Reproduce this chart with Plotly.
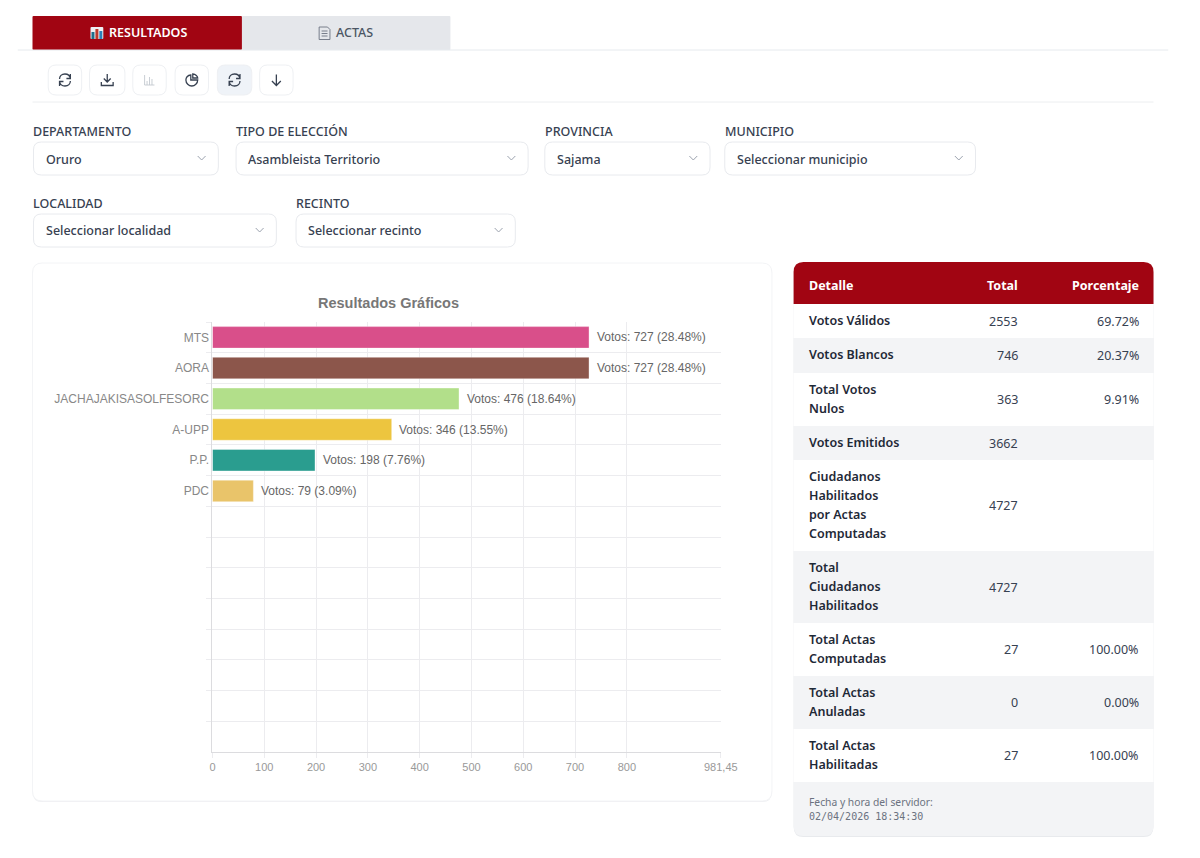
import re
import plotly.graph_objects as go

W = 1200
H = 858

# chart data
partidos = ["MTS", "AORA", "JACHAJAKISASOLFESORC", "A-UPP", "P.P.", "PDC"]
votos = [727, 727, 476, 346, 198, 79]
porcentajes_votos = ["28.48%", "28.48%", "18.64%", "13.55%", "7.76%", "3.09%"]
colores = ["#d94f8a", "#8c564b", "#b2df8a", "#edc53f", "#2a9d8f", "#e9c46a"]
filas_vacias = 8
x_ticks = [0, 100, 200, 300, 400, 500, 600, 700, 800, 981.45]
x_labels = ["0", "100", "200", "300", "400", "500", "600", "700", "800", "981,45"]

# table data
detalle = ["Votos Válidos", "Votos Blancos", "Total Votos<br>Nulos", "Votos Emitidos",
           "Ciudadanos<br>Habilitados<br>por Actas<br>Computadas",
           "Total<br>Ciudadanos<br>Habilitados", "Total Actas<br>Computadas",
           "Total Actas<br>Anuladas", "Total Actas<br>Habilitadas"]
totales = ["2553", "746", "363", "3662", "4727", "4727", "27", "0", "27"]
porcentajes = ["69.72%", "20.37%", "9.91%", "", "", "", "100.00%", "0.00%", "100.00%"]

UI_FONT = "Noto Sans"
CHART_FONT = "Liberation Sans"
RED = "#a10512"


# everything below works in page pixels and gets converted to paper coords
def pp(path):
    nums = iter(range(10000))

    def conv(m):
        v = float(m.group(0))
        return str(v / W) if next(nums) % 2 == 0 else str(1 - v / H)
    return re.sub(r"-?\d+\.?\d*", conv, path)


def rrect(x0, y0, x1, y1, r=8, tl=True, tr=True, br=True, bl=True):
    p = f"M {x0 + (r if tl else 0)} {y0} L {x1 - (r if tr else 0)} {y0} "
    if tr:
        p += f"Q {x1} {y0} {x1} {y0 + r} "
    p += f"L {x1} {y1 - (r if br else 0)} "
    if br:
        p += f"Q {x1} {y1} {x1 - r} {y1} "
    p += f"L {x0 + (r if bl else 0)} {y1} "
    if bl:
        p += f"Q {x0} {y1} {x0} {y1 - r} "
    p += f"L {x0} {y0 + (r if tl else 0)} "
    if tl:
        p += f"Q {x0} {y0} {x0 + r} {y0} "
    return p + "Z"


shapes = []
annots = []


def box(path, fill="rgba(0,0,0,0)", line=None, lw=1):
    shapes.append(dict(type="path", xref="paper", yref="paper", layer="below", path=pp(path),
                       fillcolor=fill, line=dict(color=line or "rgba(0,0,0,0)", width=lw if line else 0)))


def icon(cx, cy, path, color="#374151", lw=1.4):
    # path is relative to the icon centre
    nums = iter(range(10000))

    def shift(m):
        v = float(m.group(0))
        return str(v + cx) if next(nums) % 2 == 0 else str(v + cy)
    box(re.sub(r"-?\d+\.?\d*", shift, path), line=color, lw=lw)


def txt(x, y, s, size=12.5, color="#374151", weight=400, anchor="left", family=UI_FONT):
    annots.append(dict(x=x / W, y=1 - y / H, xref="paper", yref="paper", text=s, showarrow=False,
                       xanchor=anchor, yanchor="middle", borderpad=0, borderwidth=0,
                       font=dict(family=family, size=size, color=color, weight=weight)))


# tabs
box(rrect(30, 16, 243, 50, 1), RED)
box(rrect(243, 16, 455, 50, 1), "#e5e7eb")
box("M 15 50 L 1185 50", line="#e6eaee")
box(rrect(89, 27, 102, 39, 1), "#eef1f4")
box(rrect(90, 32, 93, 39, 0), "#1f6f8b")
box(rrect(94, 29, 97, 39, 0), "#c0392b")
box(rrect(98, 31, 101, 39, 0), "#2c7fb8")
txt(108, 33, "RESULTADOS", 12.5, "#ffffff", 600)
icon(327, 33, "M -5.5 -6 L 3 -6 L 5.5 -3.5 L 5.5 6.5 L -5.5 6.5 Z M -3 -2 L 3 -2 M -3 0.5 L 3 0.5 M -3 3 L 3 3",
     "#6b7280", 0.9)
txt(339, 33, "ACTAS", 12.5, "#4b5563", 500)

# toolbar
refresh = ("M 5.5 -1.5 C 5 -4.5 2.5 -6 0 -6 C -3.5 -6 -5.5 -3.5 -5.5 -1 "
           "M 5.5 -6 L 5.5 -1.5 L 1.5 -1.5 "
           "M -5.5 1.5 C -5 4.5 -2.5 6 0 6 C 3.5 6 5.5 3.5 5.5 1 "
           "M -5.5 6 L -5.5 1.5 L -1.5 1.5")
descarga = "M 0 -6 L 0 2 M -3.5 -1.5 L 0 2 L 3.5 -1.5 M -6 2 L -6 5.5 L 6 5.5 L 6 2"
barras = "M -5 -5 L -5 5 L 5 5 M -2.5 5 L -2.5 1 M 0 5 L 0 -3 M 2.5 5 L 2.5 -1"
pastel = ("M -1 -5 C -4.5 -5 -6 -2 -6 0 C -6 3.5 -3 6 0 6 C 3 6 6 3.5 6 0 L -1 0 Z "
          "M 1 -6 C 4 -6 6 -3.5 6 -2 L 1 -2 Z")
flecha = "M 0 -5.5 L 0 5.5 M -4.5 1 L 0 5.5 L 4.5 1"
botones = [(46, 80, refresh, "#374151"), (88, 124, descarga, "#374151"), (132, 166, barras, "#c3c8cf"),
           (175, 209, pastel, "#374151"), (218, 253, refresh, "#374151"), (261, 295, flecha, "#374151")]
for i, (x0, x1, ic, col) in enumerate(botones):
    box(rrect(x0, 65, x1, 95, 8), "#eff3f8" if i == 4 else "#ffffff", "#eef0f3")
    icon((x0 + x1) / 2, 80, ic, col, 1.3 if col != "#c3c8cf" else 0.9)
box("M 30 102 L 1170 102", line="#eceef0")

# filters
filtros = [("DEPARTAMENTO", "Oruro", 31, 219, 0), ("TIPO DE ELECCIÓN", "Asambleista Territorio", 237, 534, 0),
           ("PROVINCIA", "Sajama", 551, 719, 0), ("MUNICIPIO", "Seleccionar municipio", 734, 989, 0),
           ("LOCALIDAD", "Seleccionar localidad", 31, 278, 1), ("RECINTO", "Seleccionar recinto", 298, 521, 1)]
for etiqueta, valor, x0, x1, fila in filtros:
    dy = fila * 72
    txt(x0, 131 + dy, etiqueta, 12.5, "#374151", 500)
    box(rrect(x0, 142 + dy, x1, 175 + dy, 8), "#ffffff", "#e8eaee")
    txt(x0 + 12.5, 159 + dy, valor, 12.5, "#374151", 500)
    icon(x1 - 17, 158 + dy, "M -4 -2 L 0 2 L 4 -2", "#9ca3af", 1)

# chart card
box(rrect(30, 264, 782, 802, 10), "#eeeff2")
box(rrect(30, 263, 782, 801, 10), "#ffffff", "#f3f4f6")
txt(392, 303, "Resultados Gráficos", 14.5, "#777777", 700, "center", CHART_FONT)

# table card
box(rrect(804, 263, 1170, 837, 10), "#e8eaed")
box(rrect(804, 262, 1170, 304, 10, br=False, bl=False), RED)
txt(820, 285, "Detalle", 12.5, "#ffffff", 700)
txt(1032, 285, "Total", 12.5, "#ffffff", 700, "right")
txt(1155, 285, "Porcentaje", 12.5, "#ffffff", 700, "right")

filas_y = [304, 338, 373, 426, 460, 551, 623, 676, 729, 782]
for i, (d, t, p) in enumerate(zip(detalle, totales, porcentajes)):
    y0, y1 = filas_y[i], filas_y[i + 1]
    box(rrect(804, y0, 1170, y1, 0), "#f3f4f6" if i % 2 else "#ffffff")
    cy = (y0 + y1) / 2
    lineas = d.split("<br>")
    for j, l in enumerate(lineas):
        txt(820, cy + (j - (len(lineas) - 1) / 2) * 18.8 - 0.5, l, 12.5, "#1f2937", 600)
    txt(1032, cy, t, 12.5, "#374151", 400, "right")
    txt(1155, cy, p, 12.5, "#374151", 400, "right")
box(rrect(804, 782, 1170, 836, 10, tl=False, tr=False), "#f3f4f6")
txt(820, 802, "Fecha y hora del servidor:", 10.3, "#6b7280")
txt(820, 816, "02/04/2026 18:34:30", 10, "#6b7280", 400, "left", "DejaVu Sans Mono")

# bars + value labels
slots = partidos + ["\u00a0" * (i + 1) for i in range(filas_vacias)]
fig = go.Figure(go.Bar(x=votos, y=partidos, orientation="h", width=0.7,
                       marker=dict(color=colores, line=dict(color="rgba(255,255,255,0.35)", width=1)),
                       hoverinfo="skip"))
for p, v, pct in zip(partidos, votos, porcentajes_votos):
    annots.append(dict(x=v, y=p, xref="x", yref="y", xanchor="left", yanchor="middle", xshift=6.5,
                       showarrow=False, borderpad=0, text=f"Votos: {v} ({pct})",
                       font=dict(family=CHART_FONT, size=12, color="#666666")))

fig.update_layout(
    width=W, height=H, margin=dict(l=0, r=0, t=0, b=0), autosize=False,
    paper_bgcolor="#ffffff", plot_bgcolor="rgba(0,0,0,0)", showlegend=False,
    shapes=shapes, annotations=annots,
)
fig.update_xaxes(domain=[213 / W, 730 / W], range=[0, 981.45], tickmode="array", tickvals=x_ticks,
                 ticktext=x_labels, showgrid=True, gridcolor="#ececef", zeroline=False,
                 showline=True, linecolor="#dcdcdf", ticks="outside", ticklen=5, tickcolor="#ececef",
                 tickfont=dict(family=CHART_FONT, size=11, color="#999999"))
fig.update_yaxes(domain=[1 - 752 / H, 1 - 322 / H], type="category", categoryorder="array",
                 categoryarray=slots, range=[13.5, -0.5], tickson="boundaries", showgrid=True,
                 gridcolor="#ececef", zeroline=False, showline=True, linecolor="#dcdcdf",
                 ticks="outside", ticklen=5, tickcolor="#ececef",
                 tickfont=dict(family=CHART_FONT, size=12, color="#888888"))

fig.write_html("out.html", config=dict(displayModeBar=False),
               post_script="document.body.style.margin='0';document.body.style.overflow='hidden';")
